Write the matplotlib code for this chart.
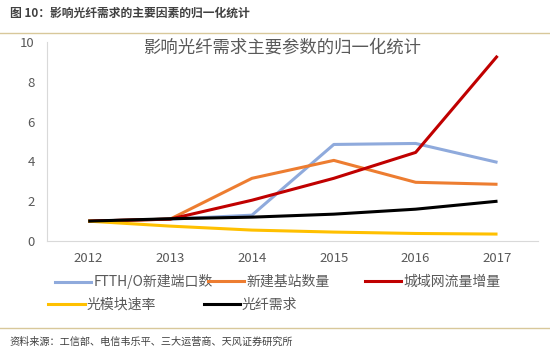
import matplotlib.pyplot as plt
from matplotlib.lines import Line2D

plt.rcParams['font.family'] = ['Noto Sans CJK SC', 'DejaVu Sans']

years = [2012, 2013, 2014, 2015, 2016, 2017]
ftth = [1.0, 1.1, 1.3, 4.85, 4.9, 3.95]
base_station = [1.0, 1.1, 3.15, 4.05, 2.95, 2.85]
metro_traffic = [1.0, 1.1, 2.05, 3.15, 4.45, 9.3]
module_rate = [1.0, 0.75, 0.55, 0.45, 0.38, 0.35]
fiber_demand = [1.0, 1.12, 1.2, 1.35, 1.6, 2.0]

series = [
    ('FTTH/O新建端口数', ftth, '#8faadc'),
    ('新建基站数量', base_station, '#ed7d31'),
    ('城域网流量增量', metro_traffic, '#c00000'),
    ('光模块速率', module_rate, '#ffc000'),
    ('光纤需求', fiber_demand, '#000000'),
]

fig = plt.figure(figsize=(5.5, 3.55), dpi=100)
ax = fig.add_axes([0.086, 0.321, 0.893, 0.561])

x = range(len(years))
for name, vals, color in series:
    ax.plot(x, vals, color=color, lw=2.2, solid_capstyle='butt')

ax.set_xlim(-0.5, 5.5)
ax.set_ylim(0, 10)
ax.set_yticks(range(0, 11, 2))
ax.set_xticks(list(x))
ax.set_xticklabels(years)
ax.tick_params(length=0, labelsize=9.5, colors='#595959')
ax.tick_params(axis='y', pad=9)
ax.tick_params(axis='x', pad=8)
for s in ['top', 'right']:
    ax.spines[s].set_visible(False)
for s in ['left', 'bottom']:
    ax.spines[s].set_color('#d9d9d9')

fig.text(0.513, 0.865, '影响光纤需求主要参数的归一化统计', ha='center', va='center',
         fontsize=12.5, color='#595959')

# legend entries, placed individually (x of handle start, y)
legend_pos = [(0.1, 0.206), (0.378, 0.206), (0.664, 0.206),
              (0.088, 0.141), (0.37, 0.141)]
for (name, _, color), (lx, ly) in zip(series, legend_pos):
    fig.legend([Line2D([], [], color=color, lw=2.2)], [name],
               loc='center left', bbox_to_anchor=(lx, ly), frameon=False,
               fontsize=10, handlelength=2.6, handletextpad=0.15,
               borderpad=0, borderaxespad=0, labelcolor='#595959')

fig.text(0.018, 0.962, '图 10：影响光纤需求的主要因素的归一化统计', fontsize=8.5,
         fontweight='bold', color='#404040', va='center')
fig.add_artist(Line2D([0.0, 1.0], [0.907, 0.907], color='#d8c89a', lw=1.0))
fig.add_artist(Line2D([0.0, 1.0], [0.076, 0.076], color='#d8c89a', lw=1.0))
fig.text(0.018, 0.037, '资料来源：工信部、电信韦乐平、三大运营商、天风证券研究所', fontsize=7.3,
         color='#404040', va='center')

fig.savefig('out.png', dpi=100)
